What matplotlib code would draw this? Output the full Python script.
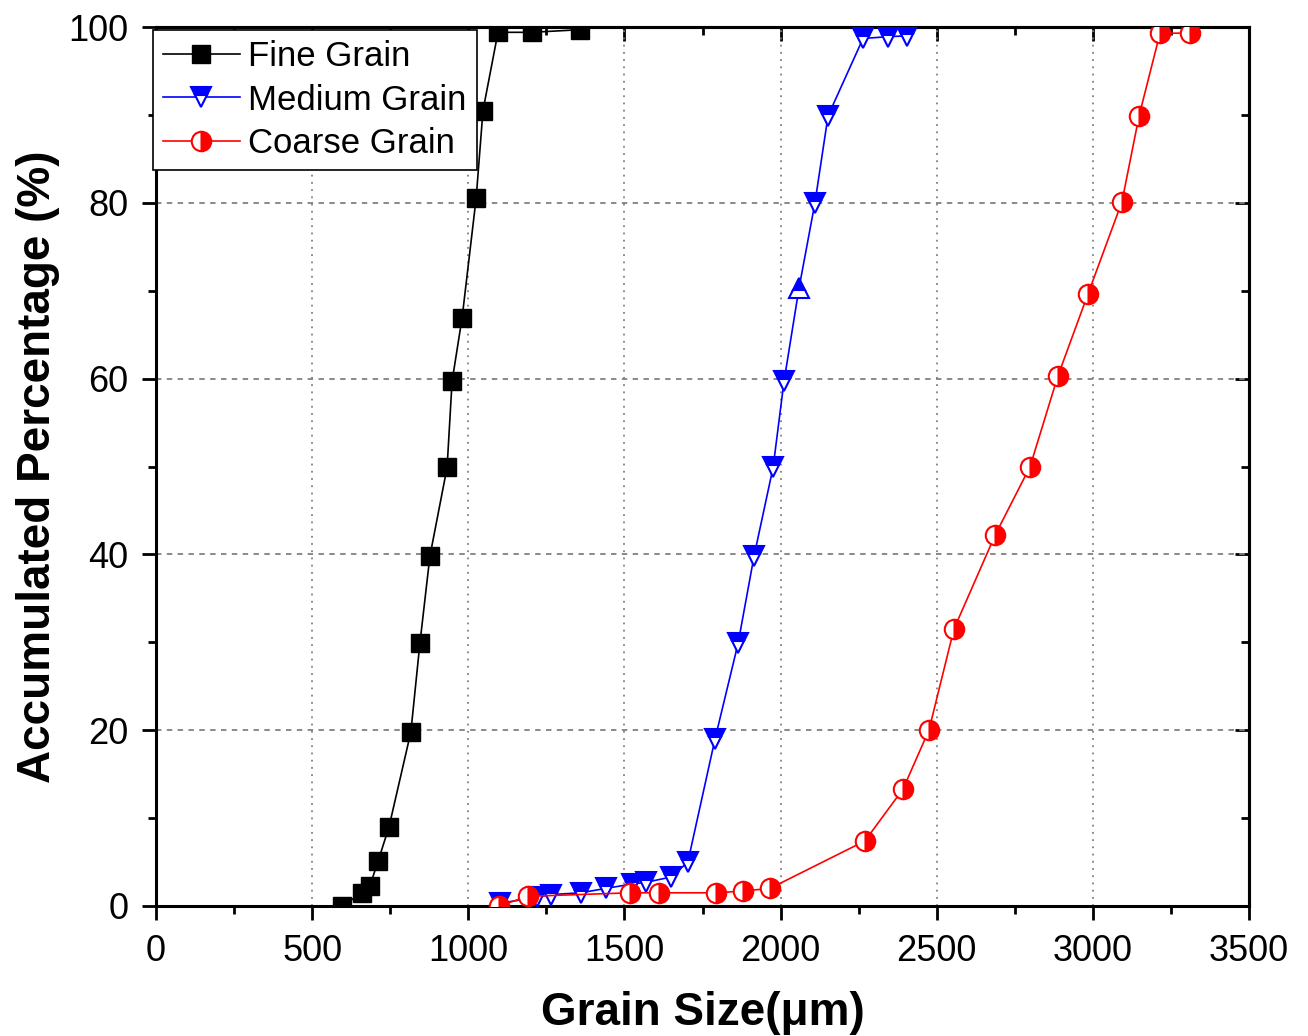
import numpy as np
import matplotlib.pyplot as plt
from matplotlib.ticker import MultipleLocator

plt.rcParams['font.family'] = ['Liberation Sans', 'DejaVu Sans']

# data
fine_x = [596, 660, 685, 711, 746, 816, 845, 877, 932, 948, 980, 1025, 1047, 1095, 1204, 1358]
fine_y = [0, 1.5, 2.3, 5.1, 9.0, 19.8, 29.9, 39.8, 49.9, 59.7, 66.9, 80.5, 90.5, 99.4, 99.4, 99.7]

medium_x = [1100, 1220, 1265, 1360, 1440, 1525, 1570, 1650, 1703, 1790, 1864, 1915,
            1976, 2011, 2059, 2110, 2152, 2264, 2344, 2405]
medium_y = [0.3, 1.0, 1.3, 1.5, 2.0, 2.5, 2.7, 3.3, 5.0, 19.0, 29.9, 39.8,
            49.9, 59.7, 70.3, 80.0, 89.9, 98.7, 98.9, 99.0]
medium_up = 14  # this one point is drawn as an up triangle in the original

coarse_x = [1098, 1191, 1518, 1611, 1793, 1880, 1966, 2270, 2392, 2475, 2555, 2687,
            2799, 2888, 2984, 3093, 3148, 3215, 3311]
coarse_y = [0, 1.1, 1.5, 1.5, 1.5, 1.7, 2.0, 7.4, 13.3, 20, 31.5, 42.2,
            50, 60.3, 69.6, 80.1, 89.9, 99.3, 99.3]

fig = plt.figure(figsize=(13.08, 10.36), dpi=100)
ax = fig.add_axes([0.1193, 0.1255, 0.8356, 0.8484])

ax.plot(fine_x, fine_y, color='black', lw=1.2, marker='s', ms=13,
        mfc='black', mec='black', label='Fine Grain', zorder=3)

idx = [i for i in range(len(medium_x)) if i != medium_up]
ax.plot(medium_x, medium_y, color='blue', lw=1.2, marker='v', ms=15,
        markevery=idx, fillstyle='top', mfc='blue', mfcalt='white',
        mec='blue', mew=1.5, label='Medium Grain', zorder=4)
ax.plot(medium_x[medium_up], medium_y[medium_up], ls='none', marker='^', ms=15,
        fillstyle='top', mfc='blue', mfcalt='white', mec='blue', mew=1.5, zorder=4)

ax.plot(coarse_x, coarse_y, color='red', lw=1.2, marker='o', ms=14,
        fillstyle='right', mfc='red', mfcalt='white', mec='red', mew=1.5,
        label='Coarse Grain', zorder=5)

ax.set_xlim(0, 3500)
ax.set_ylim(0, 100)
ax.xaxis.set_major_locator(MultipleLocator(500))
ax.xaxis.set_minor_locator(MultipleLocator(250))
ax.yaxis.set_major_locator(MultipleLocator(20))
ax.yaxis.set_minor_locator(MultipleLocator(10))

ax.xaxis.grid(True, linestyle=(0, (1, 3)), color='gray', lw=1.3)
ax.yaxis.grid(True, linestyle=(0, (3, 3)), color='gray', lw=1.3)
ax.set_axisbelow(True)

for s in ax.spines.values():
    s.set_linewidth(2.2)

ax.tick_params(which='both', direction='out', width=2, labelsize=26)
ax.tick_params(which='major', length=10, pad=10)
ax.tick_params(which='minor', length=6)

sec_x = ax.secondary_xaxis('top')
sec_x.xaxis.set_major_locator(MultipleLocator(500))
sec_x.xaxis.set_minor_locator(MultipleLocator(250))
sec_x.tick_params(which='both', direction='in', width=2, labeltop=False)
sec_x.tick_params(which='major', length=10)
sec_x.tick_params(which='minor', length=6)
sec_x.spines['top'].set_linewidth(2.2)

sec_y = ax.secondary_yaxis('right')
sec_y.yaxis.set_major_locator(MultipleLocator(20))
sec_y.yaxis.set_minor_locator(MultipleLocator(10))
sec_y.tick_params(which='both', direction='in', width=2, labelright=False)
sec_y.tick_params(which='major', length=10)
sec_y.tick_params(which='minor', length=6)
sec_y.spines['right'].set_linewidth(2.2)

ax.set_xlabel('Grain Size(μm)', fontsize=33, fontweight='bold', labelpad=16)
ax.set_ylabel('Accumulated Percentage (%)', fontsize=33, fontweight='bold', labelpad=6)

leg = ax.legend(loc='upper left', bbox_to_anchor=(-0.003, 0.997), fontsize=25,
                frameon=True, fancybox=False, edgecolor='black', framealpha=1,
                borderpad=0.3, labelspacing=0.3, handlelength=2.2,
                handletextpad=0.25, borderaxespad=0)
leg.get_frame().set_linewidth(1.2)

fig.savefig('out.png', dpi=100)
